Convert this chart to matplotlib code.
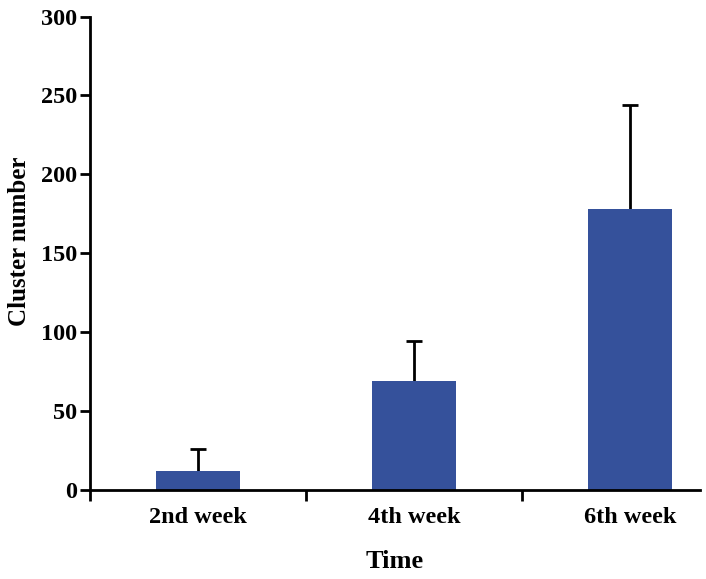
import matplotlib
matplotlib.use("Agg")
import matplotlib.pyplot as plt
from matplotlib.ticker import FixedLocator, NullFormatter, FixedFormatter

categories = ["2nd week", "4th week", "6th week"]
means = [12.2, 69.2, 177.8]
errors = [13.8, 25.0, 66.0]
yticks = [0, 50, 100, 150, 200, 250, 300]

plt.rcParams['font.family'] = ['Liberation Serif', 'DejaVu Serif']
plt.rcParams['font.weight'] = 'bold'

fig = plt.figure(figsize=(7.06, 5.79), dpi=100)
ax = fig.add_axes([0.1275, 0.1537, 0.864, 0.8178])

x = list(range(len(categories)))
ax.bar(x, means, width=0.39, color='#35519b', zorder=2)
eb = ax.errorbar(x, means, yerr=[[0]*len(means), errors], fmt='none', ecolor='black',
                 elinewidth=2.0, capsize=6, capthick=2.0, zorder=1)
# hide the lower caps (one-sided error bars)
for cap in eb[1]:
    yd = list(cap.get_ydata())
    if all(abs(a - b) < 1e-9 for a, b in zip(yd, means)):
        cap.set_visible(False)

ax.set_xlim(-0.5, 2.325)
ax.set_ylim(0, 300)
ax.set_yticks(yticks)
ax.set_yticklabels([str(t) for t in yticks], fontsize=17.5, fontweight='bold')

ax.xaxis.set_major_locator(FixedLocator([-0.5, 0.5, 1.5]))
ax.xaxis.set_major_formatter(NullFormatter())
ax.xaxis.set_minor_locator(FixedLocator(x))
ax.xaxis.set_minor_formatter(FixedFormatter(categories))
ax.tick_params(axis='x', which='major', direction='out', length=8, width=2)
ax.tick_params(axis='x', which='minor', length=0, pad=12, labelsize=17.5)
for lbl in ax.get_xticklabels(minor=True):
    lbl.set_fontweight('bold')
ax.tick_params(axis='y', direction='out', length=7, width=2, pad=2)

for s in ['top', 'right']:
    ax.spines[s].set_visible(False)
for s in ['left', 'bottom']:
    ax.spines[s].set_linewidth(2)

ax.set_xlabel("Time", fontsize=19, fontweight='bold', labelpad=16)
ax.set_ylabel("Cluster number", fontsize=18, fontweight='bold', labelpad=6)
ax.yaxis.set_label_coords(-0.096, 0.525)

fig.savefig("out.png", dpi=100)
